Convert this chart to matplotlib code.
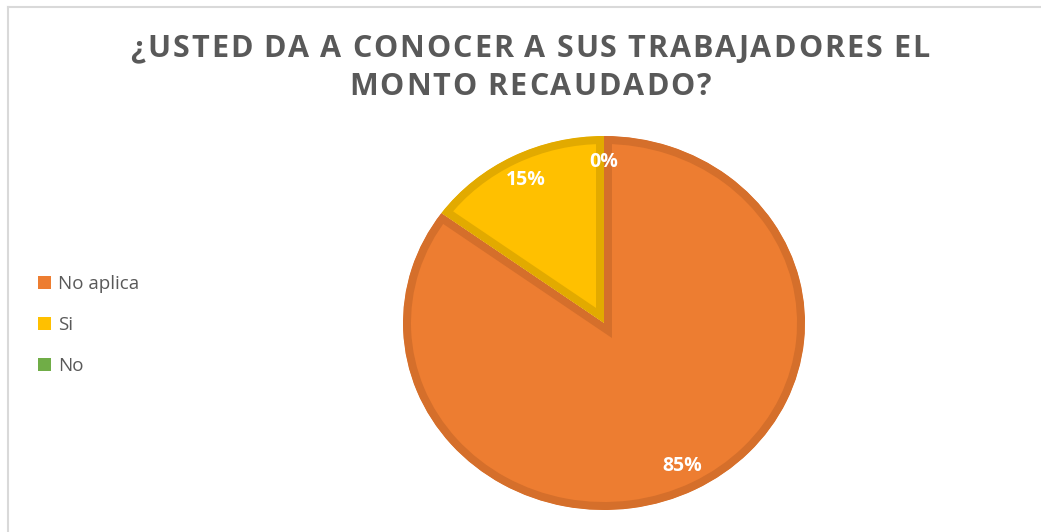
import matplotlib
matplotlib.use("Agg")
import matplotlib.pyplot as plt
from matplotlib.patches import Patch
from matplotlib.lines import Line2D

categories = ["No aplica", "Si", "No"]
values = [85, 15, 0]
colors = ["#ED7D31", "#FFC000", "#70AD47"]
edge_colors = ["#D56F2B", "#E2AA00", "#5F9A3B"]
title_lines = ["¿USTED DA A CONOCER A SUS TRABAJADORES EL", "MONTO RECAUDADO?"]

W, H = 1041, 532
fig = plt.figure(figsize=(W / 100, H / 100), dpi=100)
fig.patch.set_facecolor("white")

# frame lines (left and top)
fig.add_artist(Line2D([7.5 / W, 7.5 / W], [0, 1 - 6.5 / H], transform=fig.transFigure,
                      color="#D9D9D9", lw=1.5))
fig.add_artist(Line2D([7.5 / W, 1], [1 - 6.5 / H, 1 - 6.5 / H], transform=fig.transFigure,
                      color="#D9D9D9", lw=1.5))

# pie axes
cx, cy, rx, ry = 604, 323, 201, 187
ax = fig.add_axes([(cx - rx) / W, 1 - (cy + ry) / H, 2 * rx / W, 2 * ry / H])
wedges, texts, autotexts = ax.pie(
    values, colors=colors, startangle=90, counterclock=False,
    autopct=lambda p: f"{p:.0f}%", pctdistance=0.86, radius=1,
    textprops=dict(color="white", fontsize=14, fontweight="bold", family="Open Sans"),
)
ax.set_aspect("auto")
ax.set_xlim(-1, 1)
ax.set_ylim(-1, 1)
ax.axis("off")
for w, ec, v in zip(wedges, edge_colors, values):
    w.set_edgecolor(ec)
    w.set_linewidth(11.5 if v > 0 else 0)
    w.set_joinstyle("miter")
    w.set_clip_on(True)
    w.set_clip_path(w)

# title with letter spacing
renderer = fig.canvas.get_renderer()
title_kw = dict(fontsize=22, fontweight="bold", color="#595959", family="Open Sans",
                va="center", ha="left")
spacing = 2.0  # px between characters
for line, ypx in zip(title_lines, [49, 87]):
    widths = []
    for ch in line:
        if ch == " ":
            widths.append(7.0)
            continue
        t = fig.text(0, 0, ch, **title_kw)
        widths.append(t.get_window_extent(renderer).width)
        t.remove()
    total = sum(widths) + spacing * (len(line) - 1)
    x = 530 - total / 2
    for ch, wch in zip(line, widths):
        if ch != " ":
            fig.text(x / W, 1 - ypx / H, ch, **title_kw)
        x += wch + spacing

# legend
handles = [Patch(facecolor=c, edgecolor="none") for c in colors]
leg = fig.legend(handles, categories, loc="center left", bbox_to_anchor=(21 / W, 1 - 325 / H),
                 frameon=False, handlelength=0.7, handleheight=0.7, handletextpad=0.4,
                 labelspacing=1.22, prop=dict(family="Open Sans", size=13.5))
for t in leg.get_texts():
    t.set_color("#595959")

fig.savefig("out.png", dpi=100, facecolor="white")
